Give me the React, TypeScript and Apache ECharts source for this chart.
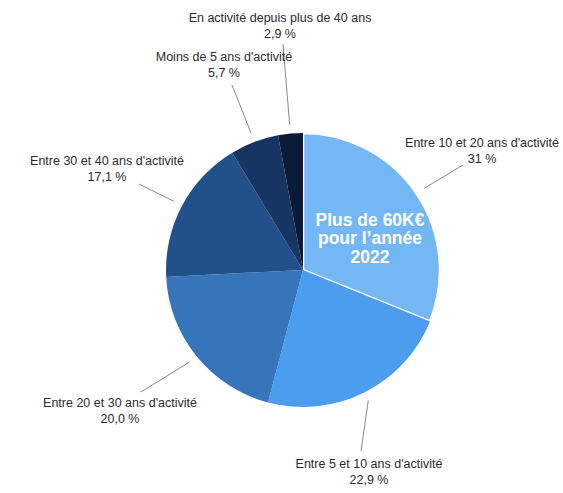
import React, { useEffect, useRef } from "react";
import * as echarts from "echarts";

const categories = [
  "Entre 10 et 20 ans d'activité",
  "Entre 5 et 10 ans d'activité",
  "Entre 20 et 30 ans d'activité",
  "Entre 30 et 40 ans d'activité",
  "Moins de 5 ans d'activité",
  "En activité depuis plus de 40 ans",
];
const values = [31, 22.9, 20.0, 17.1, 5.7, 2.9];
const valueLabels = ["31 %", "22,9 %", "20,0 %", "17,1 %", "5,7 %", "2,9 %"];
const colors = ["#73B8F5", "#4C9DF0", "#3675BA", "#21508A", "#163563", "#0B1A37"];
const centerText = "Plus de 60K€\npour l’année\n2022";

// label layout: centre of label box, and end of leader line (layout only)
const labelPos = [
  [482, 151],
  [369, 472],
  [120, 411],
  [107, 169],
  [224, 65],
  [280, 26],
];
const lineEnd = [
  [463, 165],
  [361, 451],
  [141, 392],
  [139, 184],
  [232, 85],
  [283, 44],
];

const CX = 303;
const CY = 270;
const R = 137;

export default function App() {
  const ref = useRef<HTMLDivElement>(null);
  useEffect(() => {
    if (!ref.current) return;
    const chart = echarts.init(ref.current, null, { renderer: "svg" });
    const total = values.reduce((a, b) => a + b, 0);
    const mids: number[] = [];
    let acc = 0;
    values.forEach((v) => {
      mids.push(((acc + v / 2) / total) * Math.PI * 2);
      acc += v;
    });
    chart.setOption({
      animation: false,
      backgroundColor: "#ffffff",
      graphic: [
        {
          type: "text",
          x: 370,
          y: 238,
          style: {
            text: centerText,
            fill: "#ffffff",
            font: "bold 17.5px 'Liberation Sans', Arial, sans-serif",
            align: "center",
            verticalAlign: "middle",
            lineHeight: 18.5,
          },
          z: 100,
        },
      ],
      series: [
        {
          type: "pie",
          center: [CX, CY],
          radius: [0, R],
          startAngle: 90,
          clockwise: true,
          avoidLabelOverlap: false,
          data: categories.map((name, i) => ({
            name,
            value: values[i],
            itemStyle:
              i === 0
                ? { color: colors[i], borderColor: "#ffffff", borderWidth: 2.5 }
                : { color: colors[i], borderWidth: 0 },
          })),
          label: {
            show: true,
            formatter: (p: any) => `${p.name}\n${valueLabels[p.dataIndex]}`,
            color: "#2a2a2a",
            fontSize: 12.5,
            fontFamily: "'Liberation Sans', Arial, sans-serif",
            lineHeight: 16,
            align: "center",
          },
          labelLine: {
            show: true,
            lineStyle: { color: "#888888", width: 1 },
          },
          labelLayout: (params: any) => {
            const i = params.dataIndex;
            const a = mids[i];
            const rs = R + 9;
            const sx = CX + rs * Math.sin(a);
            const sy = CY - rs * Math.cos(a);
            return {
              x: labelPos[i][0],
              y: labelPos[i][1],
              align: "center",
              verticalAlign: "middle",
              labelLinePoints: [
                [sx, sy],
                [lineEnd[i][0], lineEnd[i][1]],
                [lineEnd[i][0], lineEnd[i][1]],
              ],
            };
          },
        },
      ],
    });
    return () => chart.dispose();
  }, []);
  return (
    <div
      ref={ref}
      style={{ position: "fixed", left: 0, top: 0, width: 563, height: 493 }}
    />
  );
}
